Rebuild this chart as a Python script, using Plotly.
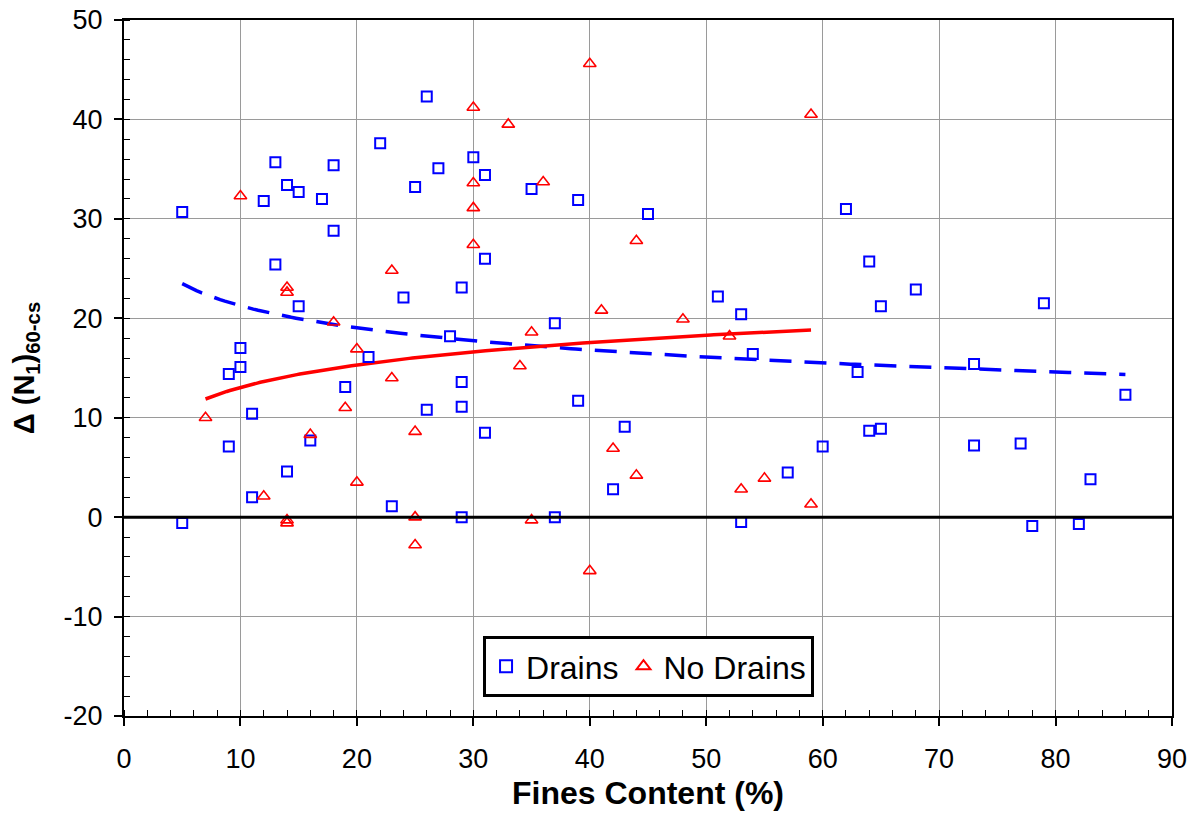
import numpy as np
import plotly.graph_objects as go

# Drains: fines content (%) and improvement in (N1)60-cs
drains_fc = [5, 5, 9, 9, 10, 10, 11, 11, 12, 13, 13, 14, 14, 15, 15, 16, 17, 18, 18, 19,
             21, 22, 23, 24, 25, 26, 26, 27, 28, 29, 29, 29, 29, 30, 31, 31, 31, 35, 37, 37,
             39, 39, 42, 43, 45, 51, 53, 53, 54, 57, 60, 62, 63, 64, 64, 65, 65, 68, 73, 73,
             77, 78, 79, 82, 83, 86]
drains_dn = [30.7, -0.6, 7.1, 14.4, 17.0, 15.1, 10.4, 2.0, 31.8, 35.7, 25.4, 33.4, 4.6, 32.7, 21.2, 7.7, 32.0, 35.4, 28.8, 13.1,
             16.1, 37.6, 1.1, 22.1, 33.2, 42.3, 10.8, 35.1, 18.2, 23.1, 13.6, 11.1, 0.0, 36.2, 34.4, 26.0, 8.5, 33.0, 19.5, 0.0,
             31.9, 11.7, 2.8, 9.1, 30.5, 22.2, 20.4, -0.5, 16.4, 4.5, 7.1, 31.0, 14.6, 25.7, 8.7, 21.2, 8.9, 22.9, 15.4, 7.2,
             7.4, -0.9, 21.5, -0.7, 3.8, 12.3]

# No drains
nodrains_fc = [7, 10, 12, 14, 14, 14, 14, 16, 18, 19, 20, 20, 23, 23, 25, 25, 25, 30, 30, 30,
               30, 33, 34, 35, 35, 36, 40, 40, 41, 42, 44, 44, 48, 52, 53, 55, 59, 59]
nodrains_dn = [10.0, 32.3, 2.1, 23.1, 22.6, -0.3, -0.6, 8.3, 19.6, 11.0, 16.9, 3.5, 24.8, 14.0, 8.6, 0.0, -2.8, 41.2, 33.6, 31.1,
               27.4, 39.5, 15.2, 18.6, -0.3, 33.7, 45.6, -5.4, 20.8, 6.9, 27.8, 4.2, 19.9, 18.2, 2.8, 3.9, 40.5, 1.3]

x_ticks = [0, 10, 20, 30, 40, 50, 60, 70, 80, 90]
y_ticks = [-20, -10, 0, 10, 20, 30, 40, 50]
y_tick_text = ["-20", "-10", "0", "10", "20", "30", "40", "50"]


def log_trend(xs, ys):
    xs = np.asarray(xs, float)
    ys = np.asarray(ys, float)
    b, a = np.polyfit(np.log(xs), ys, 1)
    xx = np.linspace(xs.min(), xs.max(), 200)
    return xx, a + b * np.log(xx)


fig = go.Figure()

dx, dy = log_trend(drains_fc, drains_dn)
nx, ny = log_trend(nodrains_fc, nodrains_dn)

fig.add_trace(go.Scatter(x=dx, y=dy, mode="lines", showlegend=False, hoverinfo="skip",
                         line=dict(color="#0000FF", width=3.5, dash="22px,13px")))
fig.add_trace(go.Scatter(x=nx, y=ny, mode="lines", showlegend=False, hoverinfo="skip",
                         line=dict(color="#FF0000", width=3.5)))

fig.add_trace(go.Scatter(x=drains_fc, y=drains_dn, mode="markers", name="Drains",
                         marker=dict(symbol="square-open", size=10, color="#0000FF",
                                     line=dict(width=2, color="#0000FF"))))
fig.add_trace(go.Scatter(x=nodrains_fc, y=nodrains_dn, mode="markers", name="No Drains",
                         marker=dict(symbol="triangle-up-open", size=11, color="#FF0000",
                                     line=dict(width=1.6, color="#FF0000"))))

# zero reference line
fig.add_shape(type="line", xref="x", yref="y", x0=0, x1=90, y0=0, y1=0,
              line=dict(color="black", width=3), layer="above")

axis_font = dict(family="Liberation Sans, Arial", size=27, color="black")

fig.update_xaxes(range=[0, 90], tickvals=x_ticks, ticks="outside", ticklen=8, tickwidth=1.5,
                 tickcolor="black", showline=True, linecolor="black", linewidth=2, mirror=True,
                 showgrid=True, gridcolor="#9a9a9a", gridwidth=1, zeroline=False, automargin=False,
                 tickfont=axis_font, ticklabelstandoff=10,
                 minor=dict(dtick=2, ticks="inside", ticklen=6, tickwidth=1, tickcolor="black", showgrid=False),
                 title=dict(text="<b>Fines Content (%)</b>", standoff=8,
                            font=dict(family="Liberation Sans, Arial", size=32, color="black")))
fig.update_yaxes(range=[-20, 50], tickvals=y_ticks, ticktext=y_tick_text, ticks="outside", ticklen=8,
                 tickwidth=1.5, tickcolor="black", showline=True, linecolor="black", linewidth=2, mirror=True,
                 showgrid=True, gridcolor="#9a9a9a", gridwidth=1, zeroline=False, automargin=False,
                 tickfont=axis_font, ticklabelstandoff=6,
                 minor=dict(dtick=2, ticks="inside", ticklen=6, tickwidth=1, tickcolor="black", showgrid=False),
                 title=dict(text="<b>Δ (N<sub>1</sub>)<sub>60-cs</sub></b>", standoff=20,
                            font=dict(family="Liberation Sans, Arial", size=29, color="black")))

fig.update_layout(
    width=1196, height=814,
    margin=dict(l=124, r=24, t=20, b=98, autoexpand=False),
    paper_bgcolor="white", plot_bgcolor="white",
    font=dict(family="Liberation Sans, Arial", color="black"),
    legend=dict(orientation="h", x=0.3426, y=0.115, xanchor="left", yanchor="top",
                bgcolor="white", bordercolor="black", borderwidth=3,
                font=dict(family="Liberation Sans, Arial", size=32, color="black"),
                itemsizing="constant"),
)

fig.write_html("out.html")
